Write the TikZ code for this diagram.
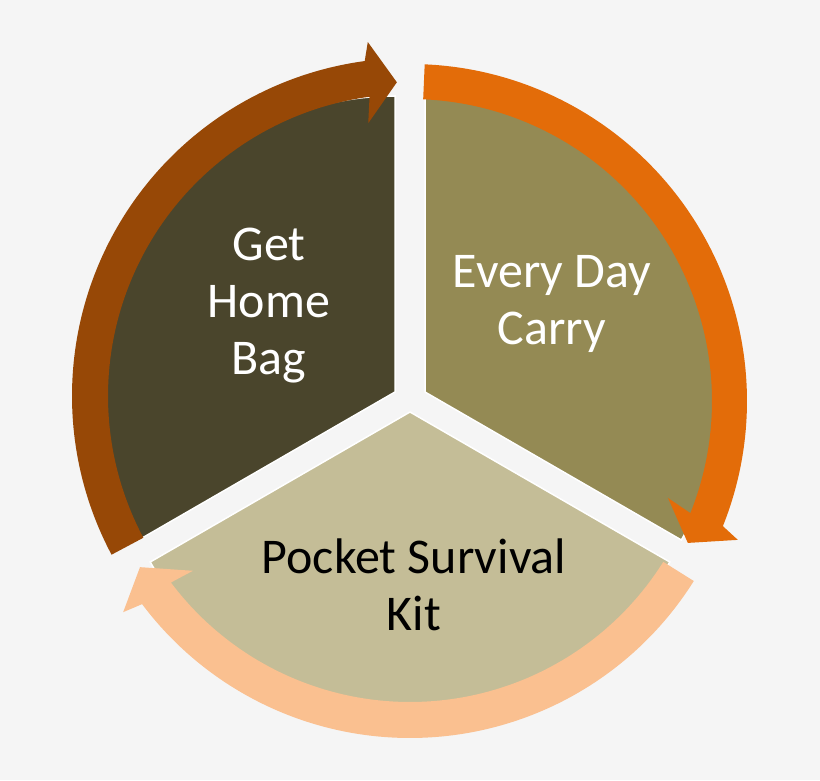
\documentclass[tikz,border=0pt]{standalone}
\usepackage{fontspec}
\setmainfont{Carlito}
\definecolor{bgc}{HTML}{F5F5F5}
\definecolor{darkc}{HTML}{4A452C}
\definecolor{olivec}{HTML}{948A54}
\definecolor{tanc}{HTML}{C4BD97}
\definecolor{brownc}{HTML}{974806}
\definecolor{orangec}{HTML}{E36C09}
\definecolor{peachc}{HTML}{FAC090}
\begin{document}
\begin{tikzpicture}[x=1pt,y=1pt,
  sector/.style={draw=white,line width=1.5pt},
  label/.style={align=center,inner sep=0pt,font=\fontsize{50}{57}\selectfont}]
\useasboundingbox (0,0) rectangle (820,780);
\fill[bgc] (0,0) rectangle (820,780);
% sector apexes
\coordinate (ad) at (395,388);
\coordinate (ao) at (425,388);
\coordinate (at) at (410,368);
% sectors
\filldraw[sector,fill=darkc] (ad) -- ++(90:296) arc[start angle=90,end angle=210,radius=296] -- cycle;
\filldraw[sector,fill=olivec] (ao) -- ++(-30:296) arc[start angle=-30,end angle=90,radius=296] -- cycle;
\filldraw[sector,fill=tanc] (at) -- ++(210:300) arc[start angle=210,end angle=330,radius=300] -- cycle;
% brown arrow
\begin{scope}[shift={(410,384)}]
\fill[brownc] (208:338) arc[start angle=208,end angle=97.7,radius=338]
  -- (96.8:356.5) -- (92.4:314) -- (98.7:276) -- (97.7:302)
  arc[start angle=97.7,end angle=208,radius=302] -- cycle;
\end{scope}
% orange arrow
\begin{scope}[shift={(410,379)}]
\fill[orangec] (87.5:337) arc[start angle=87.5,end angle=-21.8,radius=337]
  -- (-22.96:356) -- (-27.06:312) -- (-20.6:275.6) -- (-21.8:302)
  arc[start angle=-21.8,end angle=87.5,radius=302] -- cycle;
\end{scope}
% peach arrow
\begin{scope}[shift={(410,377)}]
\fill[peachc] (-32.1:335) arc[start angle=-32.1,end angle=-143.1,radius=335]
  -- (-143.9:355) -- (-148.7:316) -- (-142.3:274.4) -- (-143.1:299)
  arc[start angle=-143.1,end angle=-32.1,radius=299] -- cycle;
\end{scope}
% labels
\node[label,text=white] (ghb) at (269,474) {Get\\Home\\Bag};
\node[label,text=white] (edc) at (552,476) {Every Day\\Carry};
\node[label,text=black] (psk) at (414,195) {Pocket Survival\\Kit};
\end{tikzpicture}
\end{document}
